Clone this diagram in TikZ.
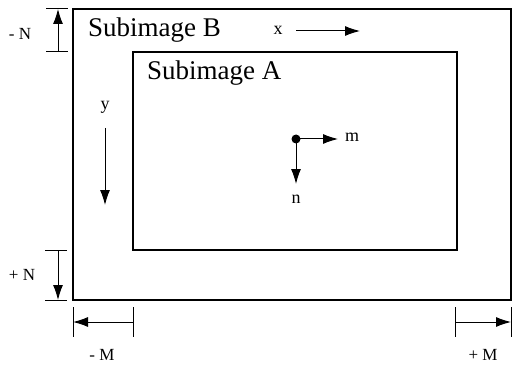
\documentclass[tikz,border=0pt]{standalone}
\usepackage{fontspec}
\setmainfont{Liberation Serif}
\usetikzlibrary{arrows.meta}
\begin{document}
\begin{tikzpicture}[x=1pt,y=-1pt,
  box/.style={draw,line width=1.2pt},
  title/.style={font=\fontsize{27}{29}\selectfont,anchor=west,inner sep=0pt},
  lab/.style={font=\fontsize{18}{20}\selectfont,inner sep=0pt},
  dimlab/.style={font=\fontsize{17}{19}\selectfont,inner sep=0pt},
  arr/.style={line width=1pt,-{Latex[length=15pt,width=10pt]}},
  tick/.style={line width=1pt}]
\useasboundingbox (0,0) rectangle (513,366);
% boxes
\coordinate (Btl) at (73,9);
\coordinate (Bbr) at (511,300);
\coordinate (Atl) at (133,52);
\coordinate (Abr) at (457,250);
\draw[box] (Btl) rectangle (Bbr);
\draw[box] (Atl) rectangle (Abr);
\node[title] (tB) at (88,30) {Subimage B};
\node[title] (tA) at (147,73) {Subimage A};
% x and y axes
\node[lab] (x) at (278,30) {x};
\coordinate (x1) at (296,31);
\coordinate (x2) at (360,31);
\draw[arr] (x1) -- (x2);
\node[lab] (y) at (105,107) {y};
\coordinate (y1) at (105,128);
\coordinate (y2) at (105,205);
\draw[arr] (y1) -- (y2);
% point with m, n
\node[circle,fill,inner sep=0pt,minimum size=9pt] (p) at (296,139) {};
\coordinate (m1) at (338,139);
\node[lab,anchor=west] (m) at (345,137) {m};
\coordinate (n1) at (296,184);
\node[lab] (n) at (296,199) {n};
\draw[arr] (p.center) -- (m1);
\draw[arr] (p.center) -- (n1);
% -N
\coordinate (nt1a) at (46,9); \coordinate (nt1b) at (68,9);
\coordinate (nt2a) at (46,52); \coordinate (nt2b) at (68,52);
\draw[tick] (nt1a) -- (nt1b);
\draw[tick] (nt2a) -- (nt2b);
\coordinate (na1) at (58,52); \coordinate (na2) at (58,9);
\draw[arr] (na1) -- (na2);
\node[dimlab] (mN) at (20,34) {- N};
% +N
\coordinate (pt1a) at (45,250); \coordinate (pt1b) at (67,250);
\coordinate (pt2a) at (45,300); \coordinate (pt2b) at (67,300);
\draw[tick] (pt1a) -- (pt1b);
\draw[tick] (pt2a) -- (pt2b);
\coordinate (pa1) at (58,250); \coordinate (pa2) at (58,300);
\draw[arr] (pa1) -- (pa2);
\node[dimlab] (pN) at (22,275) {+ N};
% -M
\coordinate (mt1a) at (73,307); \coordinate (mt1b) at (73,337);
\coordinate (mt2a) at (133,307); \coordinate (mt2b) at (133,337);
\draw[tick] (mt1a) -- (mt1b);
\draw[tick] (mt2a) -- (mt2b);
\coordinate (ma1) at (133,322); \coordinate (ma2) at (73,322);
\draw[arr] (ma1) -- (ma2);
\node[dimlab] (mM) at (102,355) {- M};
% +M
\coordinate (qt1a) at (455,307); \coordinate (qt1b) at (455,337);
\coordinate (qt2a) at (511,307); \coordinate (qt2b) at (511,337);
\draw[tick] (qt1a) -- (qt1b);
\draw[tick] (qt2a) -- (qt2b);
\coordinate (qa1) at (455,322); \coordinate (qa2) at (511,322);
\draw[arr] (qa1) -- (qa2);
\node[dimlab] (pM) at (483,355) {+ M};
\end{tikzpicture}
\end{document}
